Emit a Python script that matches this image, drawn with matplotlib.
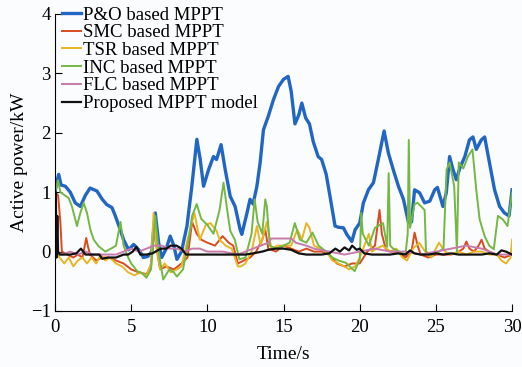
import matplotlib
matplotlib.use("Agg")
import matplotlib.pyplot as plt
import numpy as np

# P&O based MPPT
t_po = [0, 0.1, 0.24, 0.4, 0.68, 1.0, 1.33, 1.66, 2.0, 2.3, 2.75, 3.1, 3.4, 3.74, 3.96,
        4.28, 4.5, 4.83, 5.16, 5.5, 5.8, 6.1, 6.35, 6.58, 6.8, 7.0, 7.3, 7.56, 7.8, 8.0,
        8.3, 8.66, 8.98, 9.31, 9.53, 9.75, 10.08, 10.4, 10.6, 10.9, 11.17, 11.5, 11.82, 12.15,
        12.26, 12.6, 12.8, 13.0, 13.25, 13.46, 13.68, 14.0, 14.34, 14.67, 15.0, 15.3, 15.5,
        15.75, 16.0, 16.2, 16.45, 16.7, 16.95, 17.27, 17.5, 17.8, 18.05, 18.38, 18.6, 18.93,
        19.15, 19.48, 19.7, 20.0, 20.24, 20.57, 20.9, 21.22, 21.6, 21.88, 22.2, 22.54, 22.87,
        23.2, 23.4, 23.6, 23.93, 24.26, 24.6, 24.92, 25.1, 25.46, 25.68, 25.9, 26.1, 26.34,
        26.56, 26.9, 27.2, 27.43, 27.65, 27.98, 28.2, 28.52, 28.85, 29.18, 29.5, 29.8, 30.0]
p_po = [1.0, 1.15, 1.3, 1.12, 1.1, 1.0, 0.82, 0.76, 0.95, 1.07, 1.02, 0.88, 0.79, 0.74, 0.6,
        0.37, 0.2, 0.03, 0.12, 0.03, -0.1, -0.08, 0.0, 0.65, 0.15, -0.1, 0.05, 0.26, 0.1, -0.13,
        0.0, 0.43, 1.1, 1.89, 1.55, 1.1, 1.38, 1.6, 1.55, 1.8, 1.38, 0.93, 0.76, 0.37,
        0.29, 0.65, 0.88, 0.8, 1.1, 1.49, 2.05, 2.28, 2.56, 2.78, 2.9, 2.95, 2.7,
        2.15, 2.3, 2.5, 2.25, 2.15, 1.85, 1.6, 1.55, 1.3, 0.93, 0.43, 0.41, 0.4,
        0.29, 0.17, 0.37, 0.48, 0.82, 1.04, 1.16, 1.55, 2.03, 1.66, 1.38, 1.1, 0.88,
        0.49, 0.5, 1.04, 0.99, 0.82, 0.85, 1.04, 1.08, 0.76, 0.99, 1.6, 1.4, 1.21,
        1.4, 1.6, 1.88, 1.93, 1.72, 1.88, 1.93, 1.49, 1.04, 0.76, 0.65, 0.6, 1.04]

# SMC based MPPT
t_smc = [0, 0.2, 0.35, 0.45, 0.8, 1.2, 1.5, 1.8, 2.05, 2.15, 2.3, 2.7, 3.1, 3.5, 4.0, 4.5,
         5.0, 5.5, 6.0, 6.3, 6.5, 6.7, 6.9, 7.3, 7.8, 8.3, 8.7, 9.0, 9.3, 9.6, 10.0, 10.5,
         11.0, 11.4, 11.7, 12.0, 12.4, 12.8, 13.2, 13.6, 13.8, 14.0, 14.5, 15.0, 15.5, 16.0,
         16.5, 17.0, 17.5, 18.0, 18.5, 19.0, 19.5, 20.0, 20.5, 21.0, 21.2, 21.3, 21.45, 21.7,
         22.0, 22.5, 23.0, 23.4, 23.6, 23.8, 24.0, 24.5, 25.0, 25.5, 26.0, 26.5, 26.8, 27.0,
         27.2, 27.5, 27.8, 28.0, 28.2, 28.5, 29.0, 29.5, 30.0]
p_smc = [1.0, 0.95, 0.5, 0.0, -0.05, -0.1, -0.05, -0.1, 0.23, 0.1, -0.05, -0.15, -0.1, -0.1, -0.15, -0.2,
         -0.3, -0.35, -0.38, -0.25, 0.45, 0.0, -0.3, -0.25, -0.3, -0.2, -0.1, 0.5, 0.3, 0.2, 0.15, 0.1,
         0.26, 0.15, 0.1, -0.2, -0.15, -0.1, 0.0, 0.2, 0.37, 0.05, 0.0, 0.1, 0.05, 0.0,
         0.05, 0.0, 0.0, -0.05, -0.2, -0.25, -0.2, -0.2, 0.0, 0.1, 0.5, 0.7, 0.3, 0.05,
         0.0, 0.0, -0.1, 0.0, 0.32, 0.1, -0.05, -0.1, -0.05, -0.05, -0.05, 0.0, 0.05, 0.17,
         0.05, 0.0, 0.1, 0.2, 0.05, 0.0, -0.05, -0.1, -0.05]

# TSR based MPPT
t_tsr = [0, 0.3, 0.6, 0.9, 1.2, 1.5, 1.8, 2.1, 2.4, 2.7, 3.0, 3.3, 3.6, 4.0, 4.4, 4.8,
         5.2, 5.6, 6.0, 6.3, 6.47, 6.65, 6.9, 7.2, 7.6, 8.0, 8.3, 8.7, 9.15, 9.5, 9.9, 10.2,
         10.6, 10.8, 11.2, 11.6, 12.0, 12.2, 12.5, 12.9, 13.25, 13.5, 13.9, 14.2, 14.6, 15.0,
         15.5, 15.9, 16.2, 16.5, 16.7, 17.0, 17.4, 17.8, 18.2, 18.6, 19.0, 19.3, 19.7, 20.0,
         20.3, 20.6, 20.8, 21.1, 21.5, 22.0, 22.4, 22.8, 23.1, 23.5, 23.9, 24.3, 24.7, 25.2,
         25.6, 26.0, 26.5, 27.0, 27.5, 28.0, 28.5, 29.0, 29.3, 29.6, 29.9, 30.0]
p_tsr = [0.0, -0.1, -0.2, -0.1, -0.25, -0.15, -0.1, -0.2, -0.1, -0.2, -0.05, -0.15, -0.1, -0.2, -0.25, -0.35,
         -0.4, -0.35, -0.4, -0.2, 0.65, 0.1, -0.3, -0.2, -0.35, -0.3, -0.25, 0.2, 0.65, 0.2, 0.45, 0.48,
         0.35, 0.2, 0.1, 0.05, -0.25, -0.25, -0.2, 0.0, 0.43, 0.1, 0.5, 0.05, 0.1, 0.1,
         0.1, 0.37, 0.2, 0.48, 0.4, 0.1, 0.05, 0.0, -0.15, -0.2, -0.25, -0.3, -0.25, -0.1,
         0.1, 0.3, 0.0, 0.05, 0.1, 0.0, 0.05, -0.1, -0.15, 0.05, 0.15, 0.0, -0.1, 0.15,
         0.0, -0.05, 0.0, -0.05, 0.0, 0.0, -0.05, -0.05, -0.15, -0.2, -0.1, 0.2]

# INC based MPPT
t_inc = [0, 0.1, 0.2, 0.35, 0.57, 0.9, 1.11, 1.33, 1.44, 1.66, 1.88, 2.1, 2.32, 2.54, 2.86, 3.3,
         3.74, 4.0, 4.3, 4.5, 4.8, 5.0, 5.4, 5.7, 6.0, 6.3, 6.58, 6.8, 7.1, 7.5, 7.8, 8.0,
         8.4, 8.7, 9.0, 9.3, 9.6, 10.0, 10.4, 10.8, 11.06, 11.3, 11.5, 11.8, 12.1, 12.5,
         12.9, 13.1, 13.3, 13.6, 13.8, 13.9, 14.1, 14.5, 15.0, 15.4, 15.74, 16.07, 16.5, 16.9,
         17.3, 17.8, 18.2, 18.6, 19.1, 19.67, 20.0, 20.1, 20.2, 20.6, 21.0, 21.53, 21.8, 21.9,
         22.0, 22.2, 22.6, 23.0, 23.15, 23.22, 23.3, 23.6, 23.8, 24.26, 24.35, 24.7, 25.2, 25.5,
         25.7, 25.9, 26.2, 26.38, 26.5, 26.8, 27.1, 27.4, 27.65, 27.87, 28.2, 28.5, 28.8, 29.07,
         29.4, 29.7, 30.0]
p_inc = [1.0, 1.1, 1.2, 1.0, 0.96, 0.9, 0.76, 0.54, 0.43, 0.65, 0.82, 0.65, 0.37, 0.2, 0.09, 0.0,
         0.06, 0.1, 0.5, 0.1, -0.1, -0.2, -0.33, -0.36, -0.44, -0.3, 0.6, 0.0, -0.47, -0.3, -0.35, -0.42,
         -0.3, 0.1, 0.6, 0.8, 0.55, 0.45, 0.3, 0.7, 1.16, 0.7, 0.35, 0.2, -0.13, -0.1,
         0.3, 0.88, 0.5, 0.3, 0.88, 0.76, 0.1, 0.05, 0.1, 0.15, 0.48, 0.2, 0.15, 0.32,
         0.1, 0.0, -0.1, -0.15, -0.19, -0.33, -0.13, 0.65, 0.3, 0.1, 0.4, 0.48, 0.08, 1.32,
         0.1, 0.05, 0.0, -0.05, 0.3, 1.88, 0.4, 0.8, 0.82, 0.7, 0.0, -0.05, 0.0, 0.05,
         1.38, 1.5, 1.1, 0.0, 1.5, 1.4, 1.6, 1.72, 1.04, 0.54, 0.26, 0.1, 0.04, 0.6,
         0.54, 0.43, 0.99]

# FLC based MPPT
t_flc = [0, 0.5, 1.0, 1.5, 2.0, 2.5, 3.0, 3.5, 4.0, 4.5, 5.0, 5.5, 6.0, 6.5, 7.0, 7.5,
         8.0, 8.5, 9.0, 9.5, 10.0, 11.0, 12.0, 12.5, 13.0, 13.5, 14.0, 14.2, 15.5, 15.8,
         16.5, 17.0, 18.0, 19.0, 20.0, 21.0, 22.0, 23.0, 24.0, 25.0, 26.0, 27.0, 28.0, 28.5,
         29.0, 30.0]
p_flc = [0.0, -0.05, 0.0, -0.05, 0.0, -0.05, -0.05, -0.05, -0.05, 0.0, 0.05, 0.0, 0.05, 0.1, 0.1, 0.05,
         0.05, 0.0, 0.05, 0.05, 0.0, 0.0, -0.05, 0.0, 0.05, 0.1, 0.15, 0.22, 0.22, 0.15,
         0.1, 0.05, 0.0, -0.05, 0.0, 0.05, 0.0, 0.0, -0.05, 0.0, 0.05, 0.1, 0.05, 0.0,
         -0.05, -0.05]

# Proposed MPPT model
t_prop = [0, 0.05, 0.1, 0.15, 0.2, 0.3, 0.6, 1.0, 1.4, 1.7, 2.0, 2.5, 2.9, 3.1, 3.5, 4.0,
          4.5, 4.8, 5.1, 5.35, 5.6, 6.0, 6.4, 6.8, 7.0, 7.3, 7.6, 7.98, 8.3, 8.6, 9.0, 10.0,
          11.0, 12.0, 12.5, 13.0, 13.6, 14.0, 14.5, 15.0, 15.5, 16.0, 16.5, 17.0, 17.5, 18.0,
          18.4, 18.7, 19.0, 19.3, 19.5, 19.8, 20.0, 20.3, 20.8, 21.5, 22.0, 22.5, 23.0, 23.3,
          23.6, 24.0, 24.5, 25.0, 25.5, 26.0, 26.5, 27.0, 27.5, 28.0, 28.5, 29.0, 29.3, 29.6,
          30.0]
p_prop = [-0.1, 1.0, -0.1, 0.6, 0.0, -0.05, -0.05, -0.05, -0.03, 0.05, -0.05, -0.05, -0.05, -0.12, -0.1, -0.1,
          -0.05, -0.05, 0.0, 0.08, -0.05, -0.05, -0.03, 0.03, 0.05, 0.05, 0.1, 0.1, 0.05, -0.05, -0.05, -0.05,
          -0.05, -0.05, -0.05, -0.03, 0.0, 0.03, 0.05, 0.05, 0.03, -0.03, -0.05, -0.05, -0.05, -0.03,
          0.05, 0.0, 0.07, 0.02, 0.1, 0.03, 0.05, -0.03, -0.05, -0.05, -0.05, -0.03, -0.05, 0.02,
          -0.03, -0.05, -0.05, -0.03, -0.05, -0.03, -0.05, -0.05, -0.05, -0.05, -0.03, -0.05, 0.02, 0.0,
          -0.05]

labels = ["P&O based MPPT", "SMC based MPPT", "TSR based MPPT",
          "INC based MPPT", "FLC based MPPT", "Proposed MPPT model"]
colors = ["#2266c4", "#d94a1e", "#e8b526", "#74b843", "#c77bab", "#111111"]
widths = [2.4, 1.4, 1.4, 1.4, 1.4, 1.6]

plt.rcParams["font.family"] = ["Liberation Serif", "DejaVu Serif"]

fig = plt.figure(figsize=(5.22, 3.67), dpi=100, facecolor="#fbfcfd")
ax = fig.add_axes([0.1054, 0.1526, 0.8756, 0.8093])
ax.set_facecolor("#fbfcfd")

series = [(t_po, p_po), (t_smc, p_smc), (t_tsr, p_tsr),
          (t_inc, p_inc), (t_flc, p_flc), (t_prop, p_prop)]
for (t, p), lab, c, w in zip(series, labels, colors, widths):
    ax.plot(np.array(t), np.array(p), color=c, lw=w, label=lab)

ax.set_xlim(0, 30)
ax.set_ylim(-1, 4)
ax.set_xticks([0, 5, 10, 15, 20, 25, 30])
ax.set_yticks([-1, 0, 1, 2, 3, 4])
ax.spines["top"].set_visible(False)
ax.spines["right"].set_visible(False)
ax.tick_params(direction="in", length=5, labelsize=13.5)
ax.tick_params(axis="x", pad=6)
ax.tick_params(axis="y", pad=3)
ax.set_xlabel("Time/s", fontsize=14, labelpad=7)
ax.set_ylabel("Active power/kW", fontsize=14, labelpad=2)

ax.legend(loc="upper left", frameon=False, fontsize=13.5, handlelength=1.0,
          handletextpad=0.15, labelspacing=0.03, borderaxespad=0.0,
          borderpad=0.0, bbox_to_anchor=(0.015, 1.025))

fig.savefig("out.png", dpi=100, facecolor=fig.get_facecolor())
